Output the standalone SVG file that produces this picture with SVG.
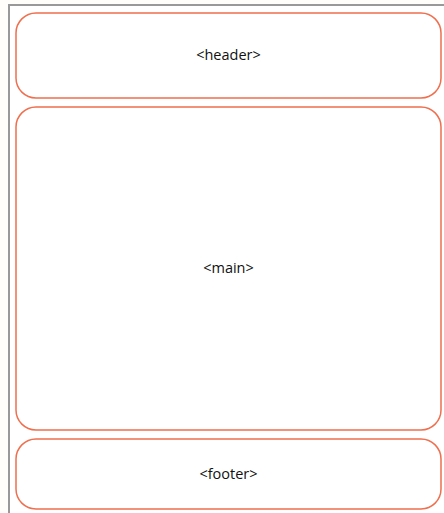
<svg xmlns="http://www.w3.org/2000/svg" width="444" height="513" viewBox="0 0 444 513">
<style>
.box{fill:#fff;stroke:#ef6f4e;stroke-width:1.5}
.lbl{font-family:"Open Sans","Liberation Sans",sans-serif;font-size:14.5px;fill:#111;text-anchor:middle}
</style>
<rect x="0" y="0" width="444" height="513" fill="#fffefa"/>
<rect x="9" y="5" width="440" height="515" fill="#fff" stroke="#999" stroke-width="2"/>
<g id="header"><rect class="box" x="16" y="13" width="425" height="85" rx="20"/><text class="lbl" x="228.5" y="60">&lt;header&gt;</text></g>
<g id="main"><rect class="box" x="16" y="107" width="425" height="323" rx="20"/><text class="lbl" x="228.5" y="273">&lt;main&gt;</text></g>
<g id="footer"><rect class="box" x="16" y="439" width="425" height="70" rx="20"/><text class="lbl" x="228.5" y="479">&lt;footer&gt;</text></g>
<g id="connectors"/>
</svg>
